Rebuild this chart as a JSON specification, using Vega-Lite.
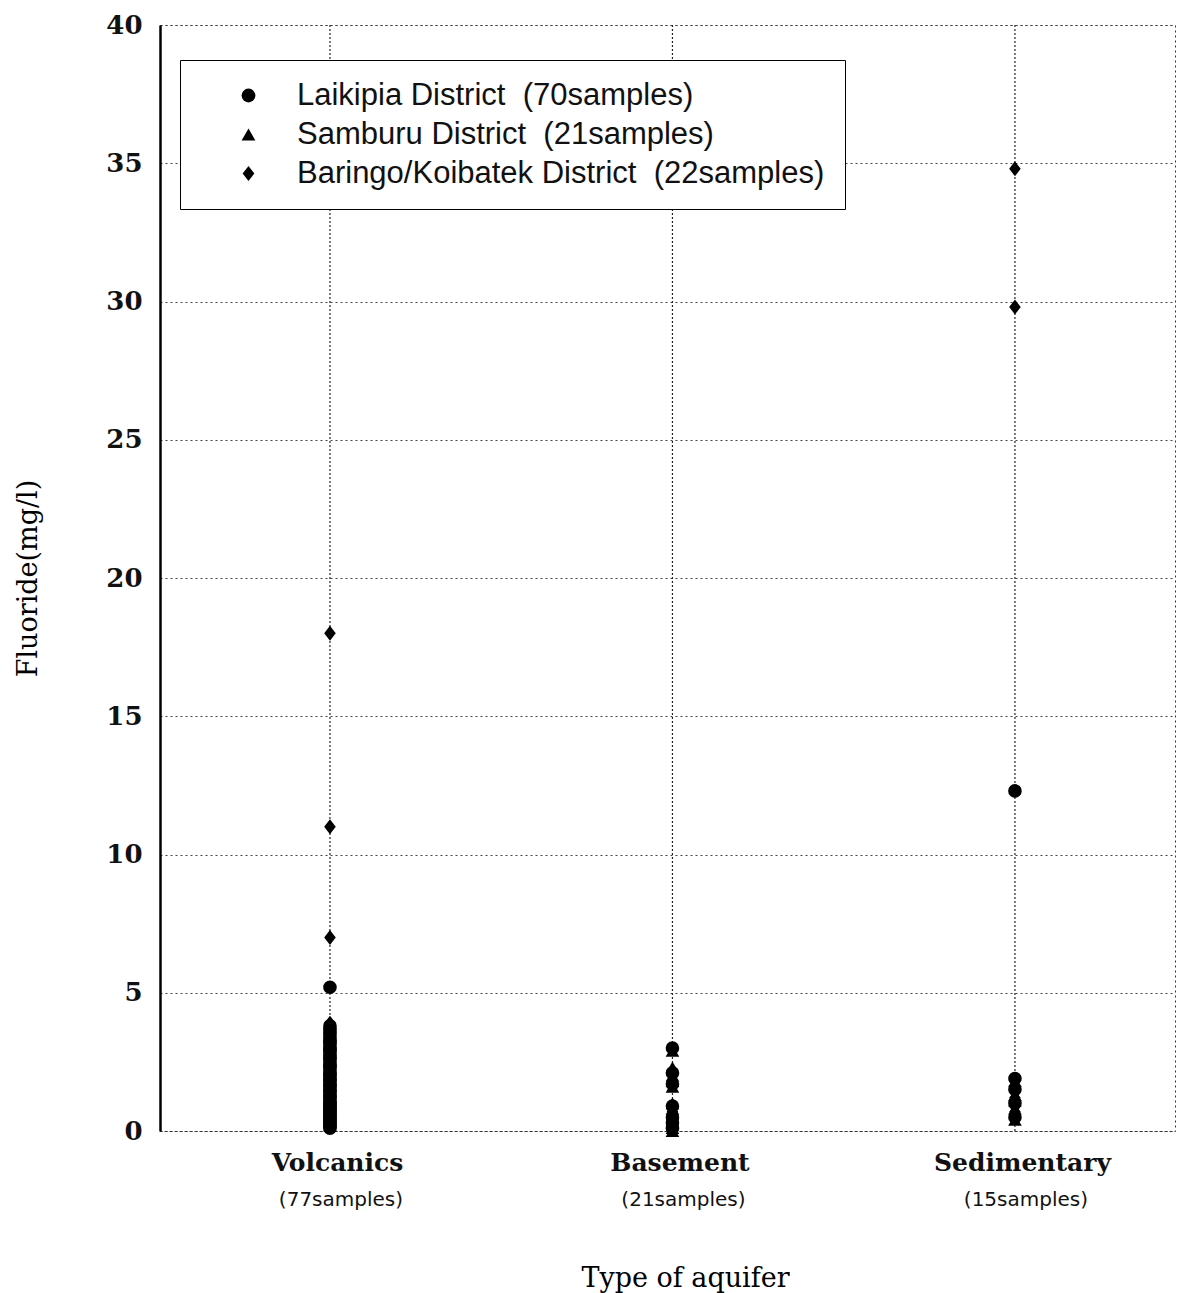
{
  "$schema": "https://vega.github.io/schema/vega-lite/v6.json",
  "width": 1015,
  "height": 1106,
  "autosize": {"type": "none"},
  "padding": {"left": 160, "top": 25, "right": 5, "bottom": 162},
  "background": "white",
  "config": {
    "view": {"stroke": "#333", "strokeDash": [2, 3], "strokeWidth": 1},
    "font": "DejaVu Serif"
  },
  "datasets": {
    "pts": [
      {"aquifer": "Volcanics", "district": "Laikipia", "f": 5.2},
      {"aquifer": "Volcanics", "district": "Laikipia", "f": 3.8},
      {"aquifer": "Volcanics", "district": "Laikipia", "f": 3.7},
      {"aquifer": "Volcanics", "district": "Laikipia", "f": 3.6},
      {"aquifer": "Volcanics", "district": "Laikipia", "f": 3.5},
      {"aquifer": "Volcanics", "district": "Laikipia", "f": 3.4},
      {"aquifer": "Volcanics", "district": "Laikipia", "f": 3.3},
      {"aquifer": "Volcanics", "district": "Laikipia", "f": 3.2},
      {"aquifer": "Volcanics", "district": "Laikipia", "f": 3.1},
      {"aquifer": "Volcanics", "district": "Laikipia", "f": 3.0},
      {"aquifer": "Volcanics", "district": "Laikipia", "f": 2.9},
      {"aquifer": "Volcanics", "district": "Laikipia", "f": 2.8},
      {"aquifer": "Volcanics", "district": "Laikipia", "f": 2.7},
      {"aquifer": "Volcanics", "district": "Laikipia", "f": 2.6},
      {"aquifer": "Volcanics", "district": "Laikipia", "f": 2.5},
      {"aquifer": "Volcanics", "district": "Laikipia", "f": 2.4},
      {"aquifer": "Volcanics", "district": "Laikipia", "f": 2.3},
      {"aquifer": "Volcanics", "district": "Laikipia", "f": 2.2},
      {"aquifer": "Volcanics", "district": "Laikipia", "f": 2.1},
      {"aquifer": "Volcanics", "district": "Laikipia", "f": 2.0},
      {"aquifer": "Volcanics", "district": "Laikipia", "f": 1.9},
      {"aquifer": "Volcanics", "district": "Laikipia", "f": 1.8},
      {"aquifer": "Volcanics", "district": "Laikipia", "f": 1.7},
      {"aquifer": "Volcanics", "district": "Laikipia", "f": 1.6},
      {"aquifer": "Volcanics", "district": "Laikipia", "f": 1.5},
      {"aquifer": "Volcanics", "district": "Laikipia", "f": 1.4},
      {"aquifer": "Volcanics", "district": "Laikipia", "f": 1.3},
      {"aquifer": "Volcanics", "district": "Laikipia", "f": 1.2},
      {"aquifer": "Volcanics", "district": "Laikipia", "f": 1.1},
      {"aquifer": "Volcanics", "district": "Laikipia", "f": 1.0},
      {"aquifer": "Volcanics", "district": "Laikipia", "f": 0.9},
      {"aquifer": "Volcanics", "district": "Laikipia", "f": 0.8},
      {"aquifer": "Volcanics", "district": "Laikipia", "f": 0.7},
      {"aquifer": "Volcanics", "district": "Laikipia", "f": 0.6},
      {"aquifer": "Volcanics", "district": "Laikipia", "f": 0.5},
      {"aquifer": "Volcanics", "district": "Laikipia", "f": 0.4},
      {"aquifer": "Volcanics", "district": "Laikipia", "f": 0.3},
      {"aquifer": "Volcanics", "district": "Laikipia", "f": 0.2},
      {"aquifer": "Volcanics", "district": "Laikipia", "f": 0.1},
      {"aquifer": "Volcanics", "district": "Laikipia", "f": 0.15},
      {"aquifer": "Volcanics", "district": "Laikipia", "f": 0.25},
      {"aquifer": "Volcanics", "district": "Laikipia", "f": 0.35},
      {"aquifer": "Volcanics", "district": "Laikipia", "f": 0.45},
      {"aquifer": "Volcanics", "district": "Laikipia", "f": 0.55},
      {"aquifer": "Volcanics", "district": "Laikipia", "f": 0.65},
      {"aquifer": "Volcanics", "district": "Laikipia", "f": 0.75},
      {"aquifer": "Volcanics", "district": "Laikipia", "f": 0.85},
      {"aquifer": "Volcanics", "district": "Laikipia", "f": 0.95},
      {"aquifer": "Volcanics", "district": "Laikipia", "f": 1.05},
      {"aquifer": "Volcanics", "district": "Laikipia", "f": 1.25},
      {"aquifer": "Volcanics", "district": "Laikipia", "f": 1.45},
      {"aquifer": "Volcanics", "district": "Laikipia", "f": 1.65},
      {"aquifer": "Volcanics", "district": "Laikipia", "f": 1.85},
      {"aquifer": "Volcanics", "district": "Laikipia", "f": 2.05},
      {"aquifer": "Volcanics", "district": "Laikipia", "f": 2.35},
      {"aquifer": "Volcanics", "district": "Laikipia", "f": 2.65},
      {"aquifer": "Volcanics", "district": "Laikipia", "f": 2.95},
      {"aquifer": "Volcanics", "district": "Laikipia", "f": 3.25},
      {"aquifer": "Volcanics", "district": "Baringo", "f": 18.0},
      {"aquifer": "Volcanics", "district": "Baringo", "f": 11.0},
      {"aquifer": "Volcanics", "district": "Baringo", "f": 7.0},
      {"aquifer": "Volcanics", "district": "Baringo", "f": 3.9},
      {"aquifer": "Volcanics", "district": "Baringo", "f": 3.3},
      {"aquifer": "Volcanics", "district": "Baringo", "f": 2.7},
      {"aquifer": "Volcanics", "district": "Baringo", "f": 2.2},
      {"aquifer": "Volcanics", "district": "Baringo", "f": 1.8},
      {"aquifer": "Volcanics", "district": "Baringo", "f": 1.4},
      {"aquifer": "Volcanics", "district": "Baringo", "f": 1.1},
      {"aquifer": "Volcanics", "district": "Baringo", "f": 0.8},
      {"aquifer": "Volcanics", "district": "Baringo", "f": 0.6},
      {"aquifer": "Volcanics", "district": "Baringo", "f": 0.4},
      {"aquifer": "Volcanics", "district": "Baringo", "f": 0.3},
      {"aquifer": "Volcanics", "district": "Baringo", "f": 0.2},
      {"aquifer": "Volcanics", "district": "Samburu", "f": 1.2},
      {"aquifer": "Volcanics", "district": "Samburu", "f": 0.9},
      {"aquifer": "Volcanics", "district": "Samburu", "f": 0.5},
      {"aquifer": "Volcanics", "district": "Samburu", "f": 0.2},
      {"aquifer": "Basement", "district": "Samburu", "f": 2.9},
      {"aquifer": "Basement", "district": "Samburu", "f": 2.3},
      {"aquifer": "Basement", "district": "Samburu", "f": 2.0},
      {"aquifer": "Basement", "district": "Samburu", "f": 1.8},
      {"aquifer": "Basement", "district": "Samburu", "f": 1.6},
      {"aquifer": "Basement", "district": "Samburu", "f": 1.0},
      {"aquifer": "Basement", "district": "Samburu", "f": 0.8},
      {"aquifer": "Basement", "district": "Samburu", "f": 0.6},
      {"aquifer": "Basement", "district": "Samburu", "f": 0.4},
      {"aquifer": "Basement", "district": "Samburu", "f": 0.3},
      {"aquifer": "Basement", "district": "Samburu", "f": 0.1},
      {"aquifer": "Basement", "district": "Samburu", "f": 0.0},
      {"aquifer": "Basement", "district": "Laikipia", "f": 3.0},
      {"aquifer": "Basement", "district": "Laikipia", "f": 2.1},
      {"aquifer": "Basement", "district": "Laikipia", "f": 1.7},
      {"aquifer": "Basement", "district": "Laikipia", "f": 0.9},
      {"aquifer": "Basement", "district": "Laikipia", "f": 0.5},
      {"aquifer": "Basement", "district": "Laikipia", "f": 0.3},
      {"aquifer": "Basement", "district": "Laikipia", "f": 0.1},
      {"aquifer": "Basement", "district": "Baringo", "f": 0.7},
      {"aquifer": "Basement", "district": "Baringo", "f": 0.2},
      {"aquifer": "Sedimentary", "district": "Laikipia", "f": 12.3},
      {"aquifer": "Sedimentary", "district": "Laikipia", "f": 1.9},
      {"aquifer": "Sedimentary", "district": "Laikipia", "f": 1.5},
      {"aquifer": "Sedimentary", "district": "Laikipia", "f": 1.0},
      {"aquifer": "Sedimentary", "district": "Laikipia", "f": 0.5},
      {"aquifer": "Sedimentary", "district": "Samburu", "f": 1.8},
      {"aquifer": "Sedimentary", "district": "Samburu", "f": 1.3},
      {"aquifer": "Sedimentary", "district": "Samburu", "f": 1.1},
      {"aquifer": "Sedimentary", "district": "Samburu", "f": 0.8},
      {"aquifer": "Sedimentary", "district": "Samburu", "f": 0.4},
      {"aquifer": "Sedimentary", "district": "Baringo", "f": 34.8},
      {"aquifer": "Sedimentary", "district": "Baringo", "f": 29.8},
      {"aquifer": "Sedimentary", "district": "Baringo", "f": 1.6},
      {"aquifer": "Sedimentary", "district": "Baringo", "f": 1.2},
      {"aquifer": "Sedimentary", "district": "Baringo", "f": 0.7}
    ],
    "cats": [
      {"aquifer": "Volcanics", "n": "(77samples)"},
      {"aquifer": "Basement", "n": "(21samples)"},
      {"aquifer": "Sedimentary", "n": "(15samples)"}
    ]
  },
  "layer": [
    {
      "data": {"name": "cats"},
      "mark": {"type": "rule", "color": "#222", "strokeDash": [2, 2], "strokeWidth": 1.2},
      "encoding": {
        "x": {"field": "aquifer", "type": "nominal", "sort": ["Volcanics", "Basement", "Sedimentary"],
          "scale": {"type": "point", "padding": 0.4818, "align": 0.515},
          "axis": {
            "title": "Type of aquifer",
            "titleFont": "DejaVu Serif",
            "titleFontSize": 27,
            "titleFontWeight": "normal",
            "titleBaseline": "middle",
            "titleY": 147,
            "titleX": 525,
            "labelFont": "DejaVu Serif",
            "labelFontSize": 25,
            "labelFontWeight": "bold",
            "labelColor": "#111",
            "labelPadding": 19,
            "labelAngle": 0,
            "labelOffset": 7,
            "ticks": false,
            "domain": true,
            "domainColor": "#333",
            "domainDash": [2, 3],
            "grid": false
          }
        }
      }
    },
    {
      "data": {"name": "cats"},
      "mark": {"type": "text", "font": "DejaVu Sans", "fontSize": 20, "baseline": "middle", "color": "#111", "dx": 11},
      "encoding": {
        "x": {"field": "aquifer", "type": "nominal", "sort": ["Volcanics", "Basement", "Sedimentary"]},
        "y": {"datum": -2.5},
        "text": {"field": "n"}
      }
    },
    {
      "data": {"name": "pts"},
      "mark": {"type": "point", "filled": true, "opacity": 1, "color": "black", "size": 185},
      "encoding": {
        "x": {"field": "aquifer", "type": "nominal", "sort": ["Volcanics", "Basement", "Sedimentary"]},
        "y": {
          "field": "f", "type": "quantitative",
          "scale": {"domain": [0, 40], "nice": false},
          "axis": {
            "title": "Fluoride(mg/l)",
            "titleFont": "DejaVu Serif",
            "titleFontSize": 27,
            "titleFontWeight": "normal",
            "titleX": -132,
            "titleBaseline": "middle",
            "values": [0, 5, 10, 15, 20, 25, 30, 35, 40],
            "labelFont": "DejaVu Serif",
            "labelFontSize": 26,
            "labelFontWeight": "bold",
            "labelColor": "#111",
            "labelPadding": 18,
            "ticks": false,
            "domain": true,
            "domainColor": "black",
            "domainWidth": 2.5,
            "grid": true,
            "gridColor": "#444",
            "gridDash": [2, 3],
            "gridWidth": 1
          }
        },
        "shape": {
          "field": "district", "type": "nominal",
          "scale": {
            "domain": ["Laikipia", "Samburu", "Baringo"],
            "range": ["circle", "triangle-up", "M0,-1.1L0.85,0L0,1.1L-0.85,0Z"]
          },
          "legend": {
            "title": null,
            "orient": "none",
            "legendX": 20,
            "legendY": 35,
            "labelExpr": "datum.label == 'Laikipia' ? 'Laikipia District\u00a0 (70samples)' : datum.label == 'Samburu' ? 'Samburu District\u00a0 (21samples)' : 'Baringo/Koibatek District\u00a0 (22samples)'",
            "labelFont": "Liberation Sans Narrow, Liberation Sans",
            "labelFontSize": 31,
            "labelColor": "#111",
            "labelLimit": 0,
            "symbolFillColor": "black",
            "symbolStrokeColor": "black",
            "symbolSize": 190,
            "symbolOffset": 33,
            "labelOffset": 33,
            "rowPadding": 7,
            "padding": 20,
            "fillColor": "white",
            "strokeColor": "black"
          }
        }
      }
    }
  ]
}
